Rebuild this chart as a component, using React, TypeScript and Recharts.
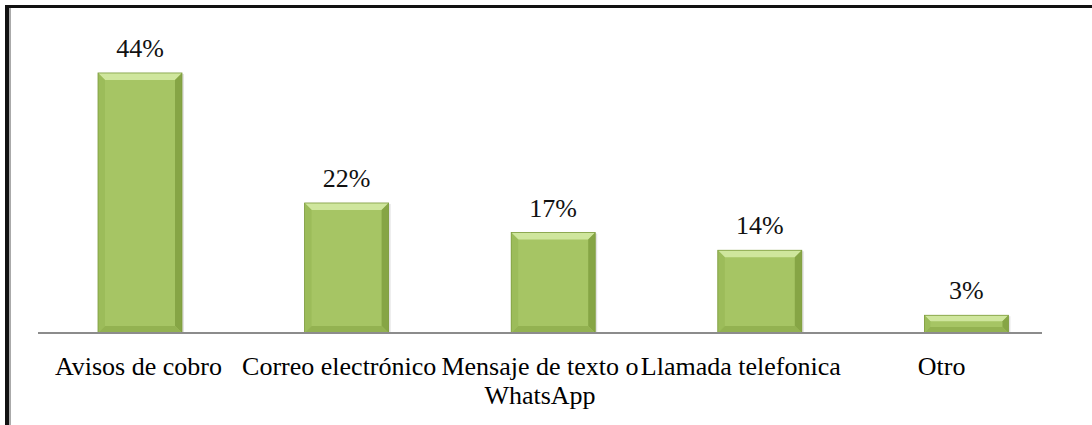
import React from "react";
import { BarChart, Bar, XAxis, YAxis, LabelList, ReferenceLine } from "recharts";

// "\n" marks where the reference wraps the label
const categories = [
  "Avisos de cobro",
  "Correo electrónico",
  "Mensaje de texto o\nWhatsApp",
  "Llamada telefonica",
  "Otro",
];
const percentages = [44, 22, 17, 14, 3];

const data = categories.map((name, i) => ({ name, value: percentages[i] }));

const FONT = "'Liberation Serif', 'Times New Roman', serif";

// bar with a bevelled edge, like the office chart style
const BevelBar = (props: any) => {
  const { x, y, width, height } = props;
  if (!height || height <= 0) return null;
  const b = Math.min(7, height / 3, width / 4);
  const r = x + width;
  const btm = y + height;
  return (
    <g>
      <rect x={x + 2} y={y + 1} width={width} height={height - 1} fill="#c8c8c8" opacity={0.5} />
      <rect x={x} y={y} width={width} height={height} fill="#a6c564" />
      <polygon points={`${x},${y} ${r},${y} ${r - b},${y + b} ${x + b},${y + b}`} fill="#cfe69d" />
      <polygon points={`${x},${y} ${x + b},${y + b} ${x + b},${btm - b} ${x},${btm}`} fill="#9cbc5a" />
      <polygon points={`${r},${y} ${r},${btm} ${r - b},${btm - b} ${r - b},${y + b}`} fill="#86a545" />
      <polygon points={`${x},${btm} ${x + b},${btm - b} ${r - b},${btm - b} ${r},${btm}`} fill="#93b251" />
      <rect x={x} y={y} width={width} height={height} fill="none" stroke="#7d9b3d" strokeWidth={0.8} />
    </g>
  );
};

const CategoryTick = (props: any) => {
  const { x, y, payload } = props;
  const lines = String(payload.value).split("\n");
  return (
    <text
      x={x}
      y={y + 34}
      textAnchor="middle"
      style={{ fontFamily: FONT, fontSize: 26, fill: "#000" }}
    >
      {lines.map((l, i) => (
        <tspan key={i} x={x} dy={i === 0 ? 0 : 29}>
          {l}
        </tspan>
      ))}
    </text>
  );
};

export default function App() {
  return (
    <div style={{ position: "absolute", left: 0, top: 0, width: 1092, height: 425, background: "#fff" }}>
      <div
        style={{
          position: "absolute",
          left: 5,
          top: 5,
          width: 1087,
          height: 420,
          borderTop: "3px solid #111",
          borderLeft: "4px solid #111",
          boxSizing: "border-box",
        }}
      >
        <div style={{ position: "absolute", left: 0, top: 0, bottom: 0, borderLeft: "2px solid #aaa" }} />
      </div>
      <div style={{ position: "absolute", left: 0, top: 0 }}>
        <BarChart
          width={1092}
          height={425}
          data={data}
          margin={{ top: 37.5, right: 50, left: 38, bottom: 32 }}
        >
          <XAxis
            xAxisId="bars"
            dataKey="name"
            orientation="top"
            height={30}
            padding={{ left: -1, right: -28 }}
            hide
          />
          <XAxis
            xAxisId="ticks"
            dataKey="name"
            height={60}
            axisLine={false}
            tickLine={false}
            interval={0}
            tick={<CategoryTick />}
          />
          <YAxis domain={[0, 50]} width={0} hide />
          <ReferenceLine xAxisId="ticks" y={0} stroke="#8c8c8c" strokeWidth={2} />
          <Bar
            xAxisId="bars"
            dataKey="value"
            barSize={84}
            shape={<BevelBar />}
            isAnimationActive={false}
          >
            <LabelList
              dataKey="value"
              position="top"
              offset={16}
              formatter={(v: any) => `${v}%`}
              style={{ fontFamily: FONT, fontSize: 26, fill: "#111" }}
            />
          </Bar>
        </BarChart>
      </div>
    </div>
  );
}
